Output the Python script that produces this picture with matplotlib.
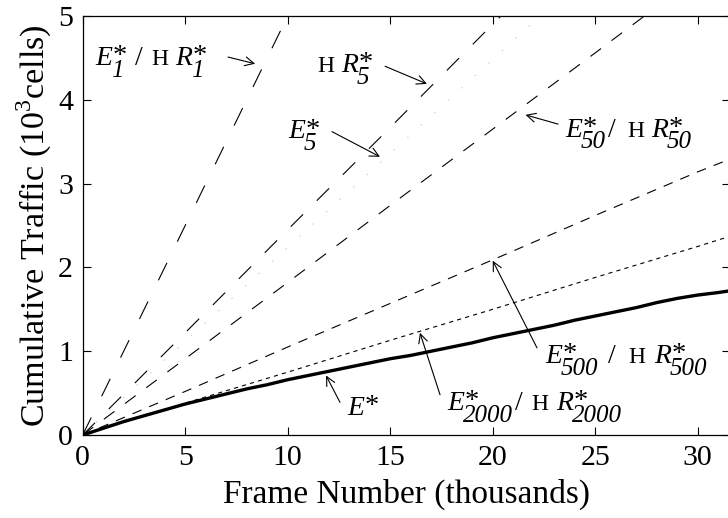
import matplotlib
matplotlib.use("Agg")
import matplotlib.pyplot as plt
from matplotlib.transforms import ScaledTranslation

plt.rcParams['font.family'] = ['Liberation Serif', 'DejaVu Serif']
plt.rcParams['mathtext.fontset'] = 'custom'
plt.rcParams['mathtext.rm'] = 'Liberation Serif'
plt.rcParams['lines.scale_dashes'] = False

# cumulative traffic (10^3 cells) against frame number (thousands)
x_e1 = [0, 5, 10]
y_e1 = [0, 2.5, 5.0]

x_hr5 = [0, 5, 10, 15, 20.4]
y_hr5 = [0, 1.22, 2.45, 3.67, 5.0]

x_e5 = [0, 5, 10, 15, 20, 22.3]
y_e5 = [0, 1.12, 2.24, 3.36, 4.48, 5.0]

x_e50 = [0, 5, 10, 15, 20, 25, 27.4]
y_e50 = [0, 0.91, 1.82, 2.74, 3.65, 4.56, 5.0]

x_e500 = [0, 5, 10, 15, 20, 25, 30, 31.55]
y_e500 = [0, 0.52, 1.05, 1.57, 2.09, 2.62, 3.14, 3.29]

x_e2000 = [0, 5, 10, 15, 20, 25, 30, 31.55]
y_e2000 = [0, 0.38, 0.75, 1.13, 1.50, 1.88, 2.25, 2.37]

x_opt = [0, 1, 2, 3, 4, 5, 6, 7, 8, 9, 10, 11, 12, 13, 14, 15, 16, 17, 18,
         19, 20, 21, 22, 23, 24, 25, 26, 27, 28, 29, 30, 31, 31.55]
y_opt = [0, 0.08, 0.16, 0.23, 0.30, 0.37, 0.43, 0.49, 0.55, 0.60, 0.66, 0.71,
         0.76, 0.81, 0.86, 0.91, 0.95, 1.00, 1.05, 1.10, 1.16, 1.21, 1.26,
         1.31, 1.37, 1.42, 1.47, 1.52, 1.58, 1.63, 1.67, 1.70, 1.72]

fig = plt.figure(figsize=(7.28, 5.18), dpi=100)
ax = fig.add_axes([82.7 / 728, 83 / 518, 646.8 / 728, 419 / 518])

ax.plot(x_e1, y_e1, color='black', lw=0.8, dashes=(14, 17))
ax.plot(x_hr5, y_hr5, color='black', lw=0.8, dashes=(12.5, 14))
ax.plot(x_e5, y_e5, color='#d4d4d4', lw=0.8, dashes=(1.2, 12))
ax.plot(x_e50, y_e50, color='black', lw=0.8, dashes=(9.5, 9.5))
ax.plot(x_e500, y_e500, color='black', lw=0.8, dashes=(7, 6))
ax.plot(x_e2000, y_e2000, color='black', lw=0.8, dashes=(3, 3))
ax.plot(x_opt, y_opt, color='black', lw=2.4, solid_capstyle='butt')

ax.set_xlim(0, 31.55)
ax.set_ylim(0, 5)
ax.set_xticks([0, 5, 10, 15, 20, 25, 30])
ax.set_yticks([0, 1, 2, 3, 4, 5])
ax.tick_params(direction='in', length=6, width=0.8, labelsize=21.5,
               top=True, right=True)
ax.tick_params(axis='x', pad=7)
ax.tick_params(axis='y', pad=7)
for s in ax.spines.values():
    s.set_linewidth(0.9)

ax.set_xlabel('Frame Number (thousands)', fontsize=24, labelpad=5.5)
ax.set_ylabel('Cumulative Traffic (10$^3$cells)', fontsize=24.5, labelpad=3)

renderer = fig.canvas.get_renderer()


def width_pt(t):
    return t.get_window_extent(renderer).width * 72 / fig.dpi


def put(s, x, y, dx, dy, **kw):
    t = ax.text(x, y, s, ha='left', va='baseline', **kw)
    t.set_transform(ax.transData + ScaledTranslation(dx / 72, dy / 72, fig.dpi_scale_trans))
    return t


def rich_label(x, y, tokens):
    # tokens: ('it', s) italic letter, ('sub', s) star over italic subscript,
    # ('rm', s) upright text, ('H', s) small upright letter, ('gap', pts)
    cur = 0.0
    for kind, s in tokens:
        if kind == 'gap':
            cur += s
        elif kind == 'it':
            t = put(s, x, y, cur, 0, fontsize=20, fontstyle='italic')
            cur += width_pt(t)
        elif kind == 'sub':
            star = put('*', x, y, cur + 0.5, 1.2, fontsize=20.5)
            w = width_pt(star) + 0.5
            if s:
                sub = put(s, x, y, cur - 0.8, -8.5, fontsize=18, fontstyle='italic')
                w = max(w, width_pt(sub) - 0.8)
            cur += w
        elif kind == 'rm':
            t = put(s, x, y, cur, 0, fontsize=20)
            cur += width_pt(t)
        elif kind == 'H':
            t = put(s, x, y, cur, 0, fontsize=17)
            cur += width_pt(t)


arrow = dict(arrowstyle='->', lw=0.8, color='black', shrinkA=0, shrinkB=0,
             mutation_scale=16)

rich_label(0.60, 4.415, [('it', 'E'), ('sub', '1'), ('gap', 6), ('rm', '/'),
                         ('gap', 6), ('H', 'H'), ('gap', 5), ('it', 'R'), ('sub', '1')])
ax.annotate('', xy=(8.41, 4.43), xytext=(7.09, 4.51), arrowprops=arrow)

rich_label(11.44, 4.33, [('H', 'H'), ('gap', 5), ('it', 'R'), ('sub', '5')])
ax.annotate('', xy=(16.79, 4.19), xytext=(14.75, 4.40), arrowprops=arrow)

rich_label(10.02, 3.54, [('it', 'E'), ('sub', '5')])
ax.annotate('', xy=(14.50, 3.32), xytext=(12.16, 3.62), arrowprops=arrow)

rich_label(23.53, 3.56, [('it', 'E'), ('sub', '50'), ('gap', 1.5), ('rm', '/'),
                         ('gap', 8), ('H', 'H'), ('gap', 5), ('it', 'R'), ('sub', '50')])
ax.annotate('', xy=(21.6, 3.82), xytext=(23.19, 3.71), arrowprops=arrow)

rich_label(22.55, 0.86, [('it', 'E'), ('sub', '500'), ('gap', 7), ('rm', '/'),
                         ('gap', 9), ('H', 'H'), ('gap', 6), ('it', 'R'), ('sub', '500')])
ax.annotate('', xy=(20.0, 2.08), xytext=(22.16, 1.04), arrowprops=arrow)

rich_label(17.77, 0.30, [('it', 'E'), ('sub', '2000'), ('gap', 1.5), ('rm', '/'),
                         ('gap', 6), ('H', 'H'), ('gap', 6), ('it', 'R'), ('sub', '2000')])
ax.annotate('', xy=(16.45, 1.22), xytext=(17.43, 0.48), arrowprops=arrow)

rich_label(12.9, 0.24, [('it', 'E'), ('sub', '')])
ax.annotate('', xy=(11.87, 0.71), xytext=(12.55, 0.39), arrowprops=arrow)

fig.savefig('out.png', dpi=100)
